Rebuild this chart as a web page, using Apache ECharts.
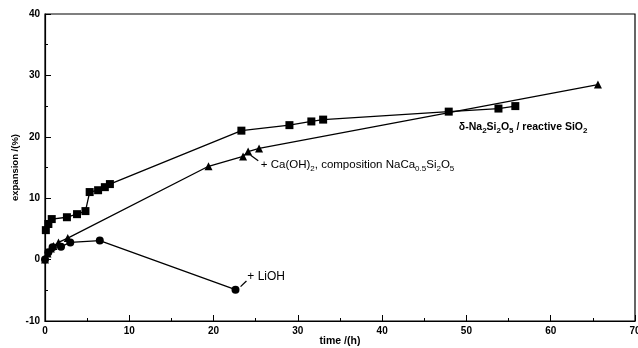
<!DOCTYPE html>
<html><head><meta charset="utf-8">
<script src="https://cdn.jsdelivr.net/npm/echarts@6/dist/echarts.min.js"></script>
<style>html,body{margin:0;padding:0;background:#fff}#c{width:638px;height:348px}</style>
</head><body><div id="c"></div>
<script>
// ---- data (time h, expansion %) ----
var naSiX = [0.1, 0.4, 0.8, 2.6, 3.8, 4.8, 5.3, 6.3, 7.1, 7.7, 23.3, 29.0, 31.6, 33.0, 47.9, 53.8, 55.8];
var naSiY = [4.8, 5.8, 6.6, 6.9, 7.4, 7.9, 11.0, 11.3, 11.8, 12.3, 21.0, 21.9, 22.5, 22.8, 24.1, 24.6, 25.0];
var caX = [0.0, 0.3, 0.7, 1.0, 1.6, 2.7, 19.4, 23.5, 24.1, 25.4, 65.6];
var caY = [0.0, 1.0, 1.8, 2.2, 2.8, 3.5, 15.2, 16.8, 17.6, 18.1, 28.5];
var liX = [0.0, 0.4, 0.9, 1.9, 3.0, 6.5, 22.6];
var liY = [0.0, 1.2, 2.0, 2.1, 2.8, 3.1, -4.9];
var xTicks = [0, 10, 20, 30, 40, 50, 60, 70];
var yTicks = [-10, 0, 10, 20, 30, 40];
var xTitle = 'time /(h)';
var yTitle = 'expansion /(%)';

function pairs(xs, ys) { return xs.map(function (x, i) { return [x, ys[i]]; }); }

var chart = echarts.init(document.getElementById('c'));
var lineStyle = { color: '#000', width: 1.3 };
var itemStyle = { color: '#000' };
var axisFont = { fontFamily: 'Liberation Sans', fontWeight: 'bold', fontSize: 10, color: '#000' };

chart.setOption({
  animation: false,
  backgroundColor: '#fff',
  grid: { left: 45, top: 14, width: 590, height: 307, containLabel: false, outerBoundsMode: 'none',
    show: true, borderColor: '#000', borderWidth: 1.2 },
  xAxis: {
    type: 'value', min: xTicks[0], max: xTicks[xTicks.length - 1], interval: 10,
    axisLine: { onZero: false, lineStyle: { color: '#000', width: 1.2 } },
    axisTick: { inside: true, length: 6, lineStyle: { color: '#000' } },
    minorTick: { show: true, splitNumber: 2, length: 3, lineStyle: { color: '#000' } },
    splitLine: { show: false },
    axisLabel: Object.assign({ margin: 5 }, axisFont),
    name: xTitle, nameLocation: 'middle', nameGap: 15, nameMoveOverlap: false,
    nameTextStyle: { fontFamily: 'Liberation Sans', fontWeight: 'bold', fontSize: 10.5, color: '#000' }
  },
  yAxis: {
    type: 'value', min: yTicks[0], max: yTicks[yTicks.length - 1], interval: 10,
    axisLine: { onZero: false, lineStyle: { color: '#000', width: 1.2 } },
    axisTick: { inside: true, length: 6, lineStyle: { color: '#000' } },
    minorTick: { show: true, splitNumber: 2, length: 3, lineStyle: { color: '#000' } },
    splitLine: { show: false },
    axisLabel: Object.assign({ margin: 5 }, axisFont),
    name: yTitle, nameLocation: 'middle', nameGap: 25, nameMoveOverlap: false,
    nameTextStyle: { fontFamily: 'Liberation Sans', fontWeight: 'bold', fontSize: 9.5, color: '#000' }
  },
  series: [
    { type: 'line', data: pairs(naSiX, naSiY), symbol: 'rect', symbolSize: 8, showAllSymbol: true, lineStyle: lineStyle, itemStyle: itemStyle },
    { type: 'line', data: pairs(caX, caY), symbol: 'triangle', symbolSize: 8, showAllSymbol: true, lineStyle: lineStyle, itemStyle: itemStyle },
    { type: 'line', data: pairs(liX, liY), symbol: 'circle', symbolSize: 8, showAllSymbol: true, lineStyle: lineStyle, itemStyle: itemStyle }
  ]
});

// annotations anchored in data coordinates
function px(p) { return chart.convertToPixel({ gridIndex: 0 }, p); }
var sub = { fontSize: 8, verticalAlign: 'bottom', padding: [0, 0, -2, 0] };
var annotations = [
  { at: [24.0, -2.8], text: '+ LiOH', font: { fontSize: 12, fontWeight: 'normal' }, lead: [[23.2, -4.4], [23.9, -3.5]] },
  { at: [25.6, 15.5], text: '+ Ca(OH){s|2}, composition NaCa{s|0.5}Si{s|2}O{s|5}', font: { fontSize: 11.5, fontWeight: 'normal' }, lead: [[24.4, 17.0], [25.3, 16.1]] },
  { at: [49.1, 21.6], text: 'δ-Na{s|2}Si{s|2}O{s|5} / reactive SiO{s|2}', font: { fontSize: 10.5, fontWeight: 'bold' }, lead: null }
];
var g = [];
annotations.forEach(function (a) {
  var p = px(a.at);
  g.push({
    type: 'text', x: p[0], y: p[1],
    style: Object.assign({ text: a.text, fill: '#000', fontFamily: 'Liberation Sans', verticalAlign: 'middle', align: 'left',
      rich: { s: Object.assign({ fontFamily: 'Liberation Sans', fontWeight: a.font.fontWeight }, sub) } }, a.font)
  });
  if (a.lead) {
    var p1 = px(a.lead[0]), p2 = px(a.lead[1]);
    g.push({ type: 'line', shape: { x1: p1[0], y1: p1[1], x2: p2[0], y2: p2[1] }, style: { stroke: '#000', lineWidth: 1.3 } });
  }
});
chart.setOption({ graphic: g });
</script>
</body></html>
